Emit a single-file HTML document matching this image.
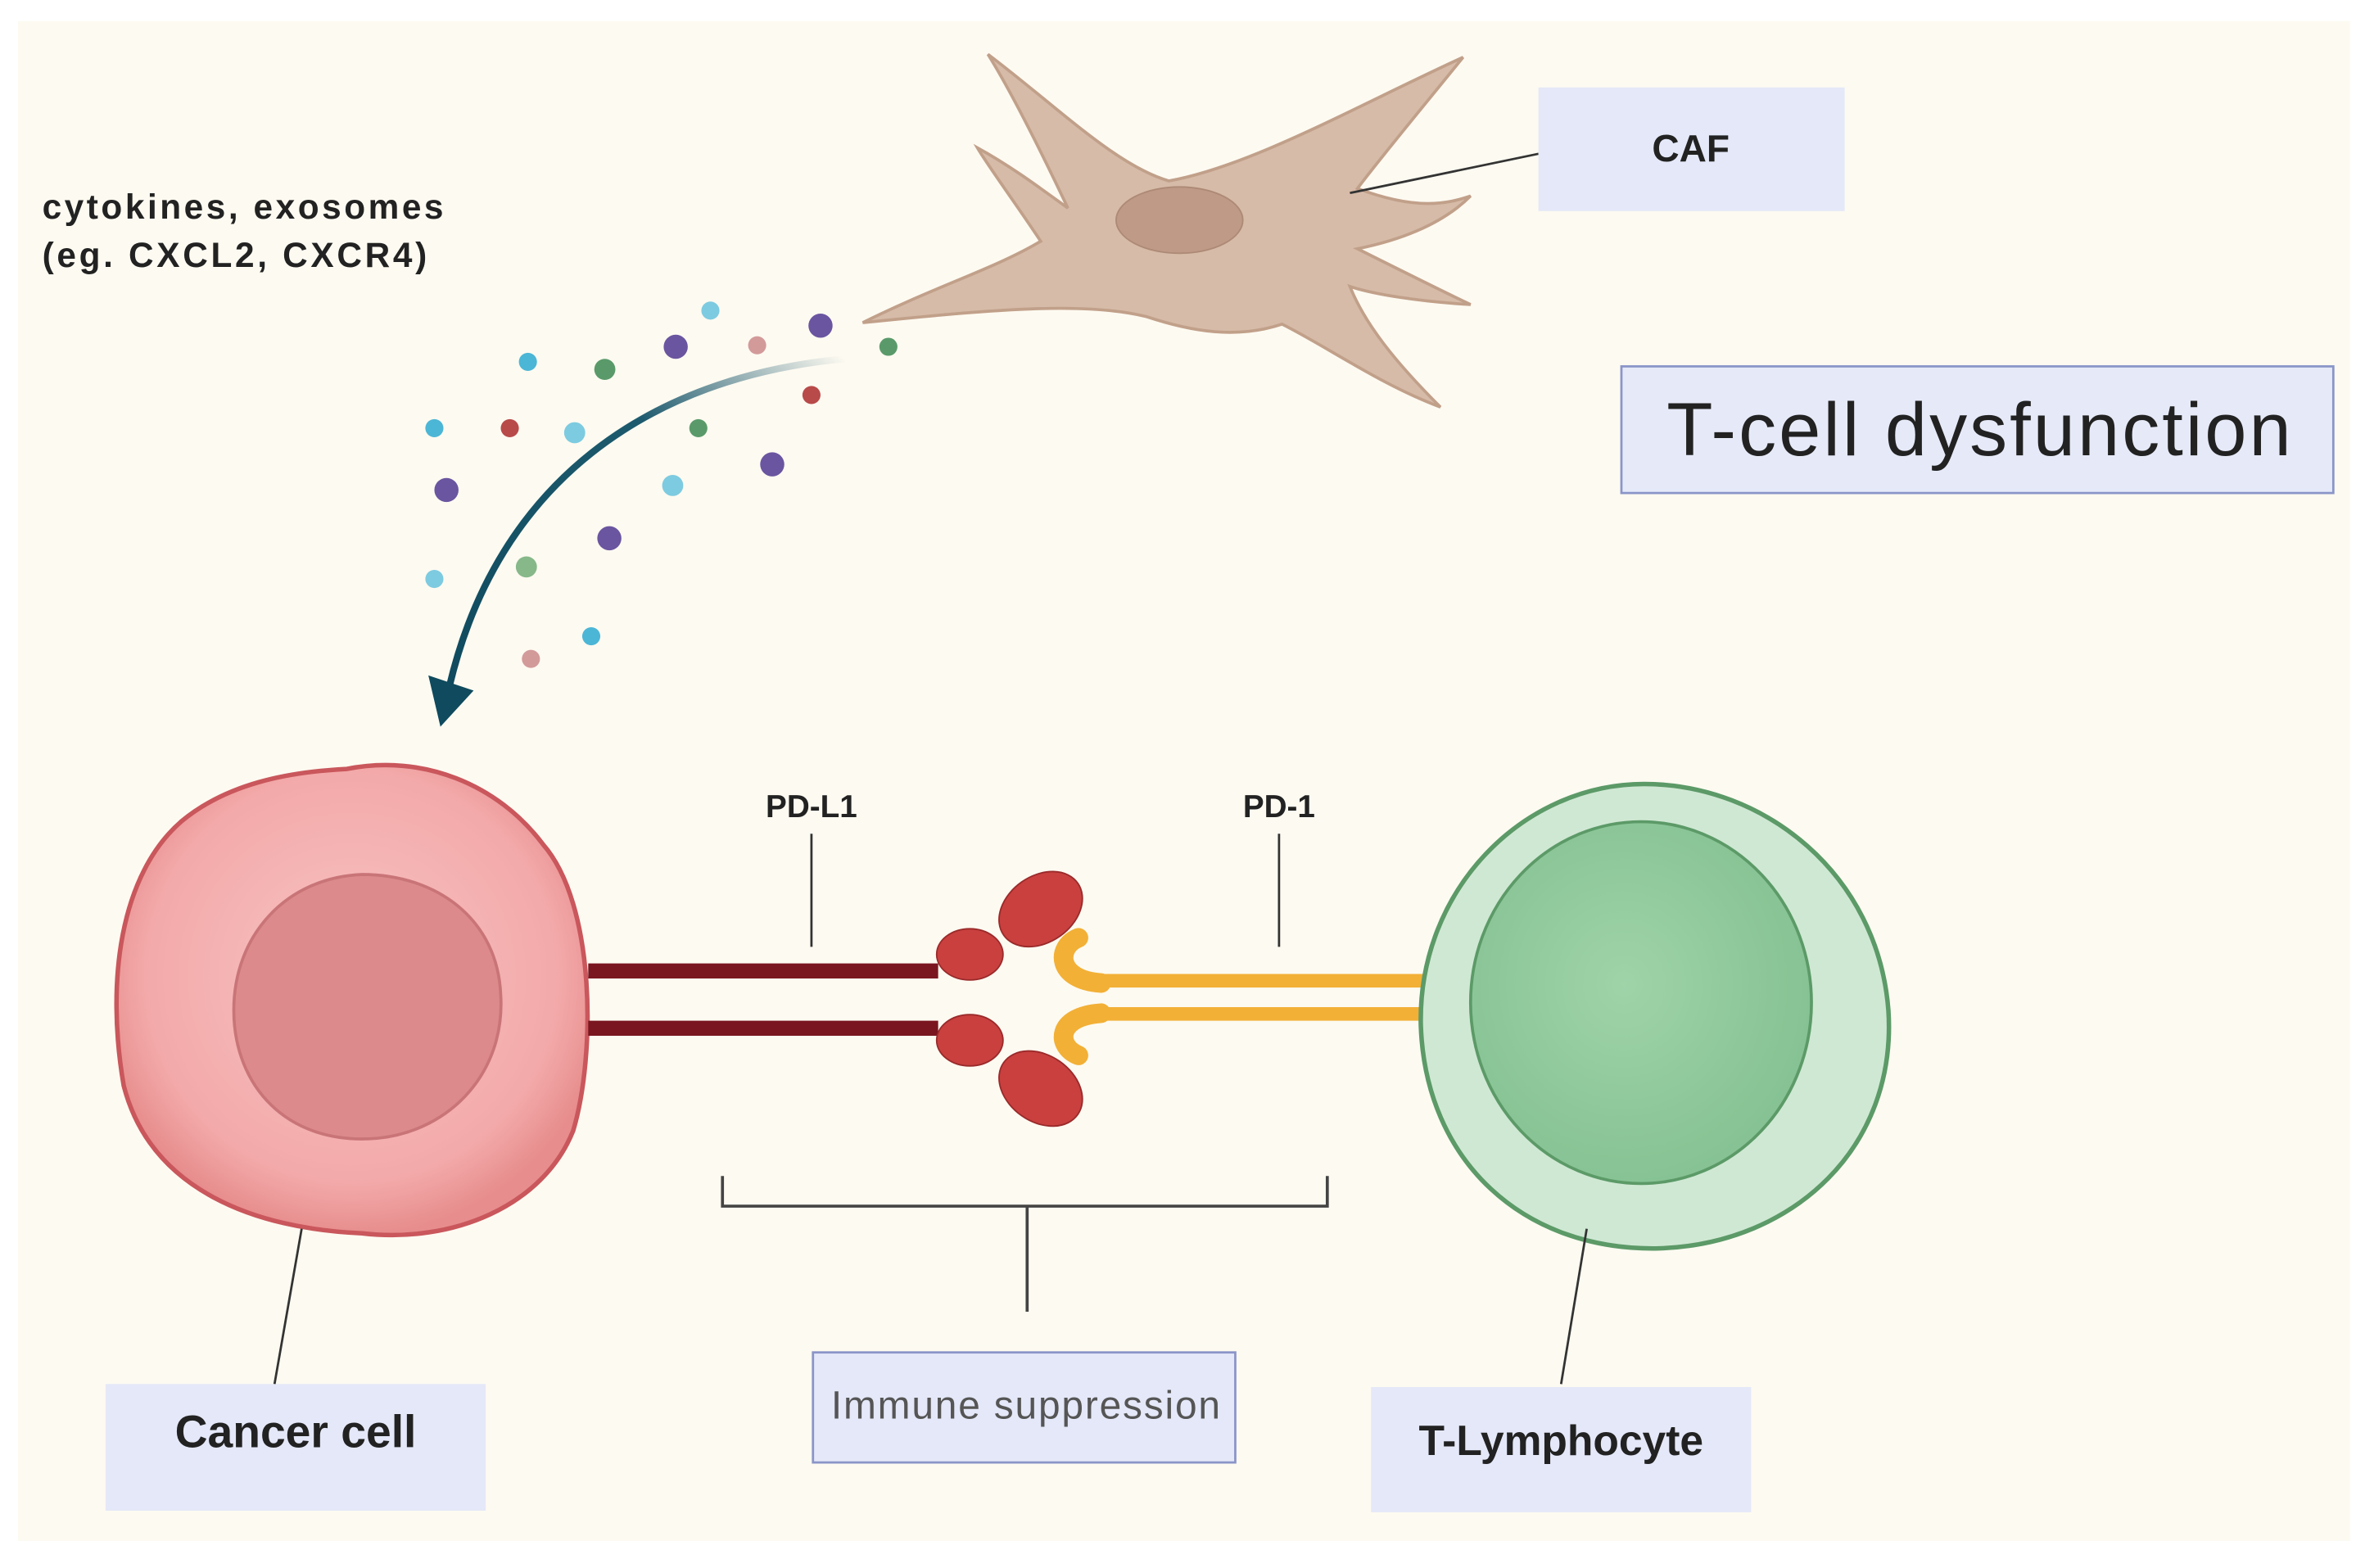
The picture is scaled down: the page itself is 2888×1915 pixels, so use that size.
<!DOCTYPE html>
<html><head><meta charset="utf-8"><style>
html,body{margin:0;padding:0;background:#fff;}
svg{display:block;}
text{font-family:"Liberation Sans",sans-serif;}
</style></head><body>
<svg width="2888" height="1915" viewBox="0 0 1568 1040" preserveAspectRatio="none" xmlns="http://www.w3.org/2000/svg">
<defs>
<linearGradient id="arr" x1="1" y1="0" x2="0" y2="1">
<stop offset="0" stop-color="#1d5a6e" stop-opacity="0"/>
<stop offset="0.35" stop-color="#1d5a6e"/>
<stop offset="1" stop-color="#0f4a5e"/>
</linearGradient>
<radialGradient id="canc" cx="0.5" cy="0.45" r="0.55">
<stop offset="0" stop-color="#f8c4c4"/><stop offset="0.8" stop-color="#f3a9a9"/><stop offset="1" stop-color="#e78d8d"/>
</radialGradient>
<radialGradient id="tc" cx="0.45" cy="0.45" r="0.6">
<stop offset="0" stop-color="#9fd3a8"/><stop offset="1" stop-color="#84c192"/>
</radialGradient>
</defs>
<rect width="1568" height="1040" fill="#fff"/>
<rect x="12" y="14" width="1546" height="1008" fill="#fdfaf1"/>

<path d="M572,214 C620,190 660,178 690,160 C670,130 655,110 648,98 C670,110 690,125 708,138 C690,100 670,60 655,36 C700,70 740,110 775,120 C830,110 900,70 970,38 C940,75 915,105 900,125 C940,140 960,135 975,130 C955,150 925,160 900,165 C930,180 960,195 975,202 C940,200 910,195 895,190 C905,215 925,240 955,270 C915,255 880,230 850,215 C820,225 790,220 760,210 C720,200 660,205 572,214 Z" fill="#d6bba8" stroke="#c1a08a" stroke-width="2"/>
<ellipse cx="782" cy="146" rx="42" ry="22" fill="#bf9a86" stroke="#ad8a76"/>
<line x1="895" y1="128" x2="1020" y2="102" stroke="#333" stroke-width="1.5"/>

<rect x="1020" y="58" width="203" height="82" fill="#e4e8f8"/>
<text x="1121" y="107" font-size="25" font-weight="bold" text-anchor="middle" fill="#222">CAF</text>
<rect x="1075" y="243" width="472" height="84" fill="#e6eaf8" stroke="#8a95c8" stroke-width="1.5"/>
<text x="1312" y="302" font-size="50" text-anchor="middle" fill="#222" textLength="414">T-cell dysfunction</text>
<text x="28" y="145" font-size="23" font-weight="bold" fill="#222" textLength="266">cytokines, exosomes</text>
<text x="28" y="177" font-size="23" font-weight="bold" fill="#222" textLength="255">(eg. CXCL2, CXCR4)</text>

<path d="M560,238 C430,250 330,320 298,455" fill="none" stroke="url(#arr)" stroke-width="4.5"/>
<polygon points="284,448 314,458 292,482" fill="#0f4a5e"/>

<g>
<circle cx="471" cy="206" r="6" fill="#7dcbe0"/>
<circle cx="544" cy="216" r="8" fill="#6a55a0"/>
<circle cx="502" cy="229" r="6" fill="#d39a9a"/>
<circle cx="448" cy="230" r="8" fill="#6a55a0"/>
<circle cx="589" cy="230" r="6" fill="#5a9a6a"/>
<circle cx="350" cy="240" r="6" fill="#4cb6d6"/>
<circle cx="401" cy="245" r="7" fill="#5a9a6a"/>
<circle cx="538" cy="262" r="6" fill="#b84a4a"/>
<circle cx="288" cy="284" r="6" fill="#4cb6d6"/>
<circle cx="338" cy="284" r="6" fill="#b84a4a"/>
<circle cx="381" cy="287" r="7" fill="#7dcbe0"/>
<circle cx="463" cy="284" r="6" fill="#5a9a6a"/>
<circle cx="296" cy="325" r="8" fill="#6a55a0"/>
<circle cx="512" cy="308" r="8" fill="#6a55a0"/>
<circle cx="446" cy="322" r="7" fill="#7dcbe0"/>
<circle cx="404" cy="357" r="8" fill="#6a55a0"/>
<circle cx="349" cy="376" r="7" fill="#86b88a"/>
<circle cx="288" cy="384" r="6" fill="#7dcbe0"/>
<circle cx="392" cy="422" r="6" fill="#4cb6d6"/>
<circle cx="352" cy="437" r="6" fill="#d39a9a"/>
</g>

<path d="M230,510 C280,500 330,520 360,560 C395,600 395,700 380,750 C360,800 300,825 240,818 C170,815 100,790 82,720 C70,650 80,580 120,545 C150,520 190,512 230,510 Z" fill="url(#canc)" stroke="#c9575c" stroke-width="3"/>
<path d="M240,580 C290,580 330,610 332,660 C335,710 300,750 250,755 C190,760 155,720 155,670 C155,620 190,582 240,580 Z" fill="#dc8a8c" stroke="#c97578" stroke-width="2"/>
<line x1="200" y1="815" x2="182" y2="918" stroke="#333" stroke-width="1.5"/>
<rect x="70" y="918" width="252" height="84" fill="#e4e8f8"/>
<text x="196" y="960" font-size="30" font-weight="bold" text-anchor="middle" fill="#222">Cancer cell</text>

<rect x="390" y="639" width="232" height="10" fill="#7a1620"/>
<rect x="390" y="677" width="232" height="10" fill="#7a1620"/>
<ellipse cx="643" cy="633" rx="22" ry="17" fill="#c9403f" stroke="#9a2a2a"/>
<ellipse cx="690" cy="603" rx="30" ry="22" transform="rotate(-35 690 603)" fill="#c9403f" stroke="#9a2a2a"/>
<ellipse cx="643" cy="690" rx="22" ry="17" fill="#c9403f" stroke="#9a2a2a"/>
<ellipse cx="690" cy="722" rx="30" ry="22" transform="rotate(35 690 722)" fill="#c9403f" stroke="#9a2a2a"/>
<text x="538" y="542" font-size="21" font-weight="bold" text-anchor="middle" fill="#222">PD-L1</text>
<line x1="538" y1="553" x2="538" y2="628" stroke="#333" stroke-width="1.5"/>

<rect x="730" y="646" width="215" height="9" fill="#f2b036"/>
<rect x="730" y="668" width="215" height="9" fill="#f2b036"/>
<path d="M715,622 C700,628 700,650 730,652" fill="none" stroke="#f2b036" stroke-width="13" stroke-linecap="round"/>
<path d="M715,700 C700,694 700,674 730,672" fill="none" stroke="#f2b036" stroke-width="13" stroke-linecap="round"/>
<text x="848" y="542" font-size="21" font-weight="bold" text-anchor="middle" fill="#222">PD-1</text>
<line x1="848" y1="553" x2="848" y2="628" stroke="#333" stroke-width="1.5"/>

<path d="M479,780 L479,800 L880,800 L880,780" fill="none" stroke="#444" stroke-width="2"/>
<line x1="681" y1="800" x2="681" y2="870" stroke="#444" stroke-width="2"/>
<rect x="539" y="897" width="280" height="73" fill="#e4e8f8" stroke="#8a95c8" stroke-width="1.5"/>
<text x="680" y="941" font-size="26" text-anchor="middle" fill="#555" textLength="258">Immune suppression</text>

<path d="M1090,520 C1170,520 1245,580 1252,670 C1258,760 1190,825 1100,828 C1010,830 945,770 942,680 C940,590 1010,520 1090,520 Z" fill="#cfe8d3" stroke="#5c9a68" stroke-width="3"/>
<ellipse cx="1088" cy="665" rx="113" ry="120" fill="url(#tc)" stroke="#5c9a68" stroke-width="2"/>
<line x1="1052" y1="815" x2="1035" y2="918" stroke="#333" stroke-width="1.5"/>
<rect x="909" y="920" width="252" height="83" fill="#e4e8f8"/>
<text x="1035" y="965" font-size="28" font-weight="bold" text-anchor="middle" fill="#222">T-Lymphocyte</text>
</svg>
</body></html>
